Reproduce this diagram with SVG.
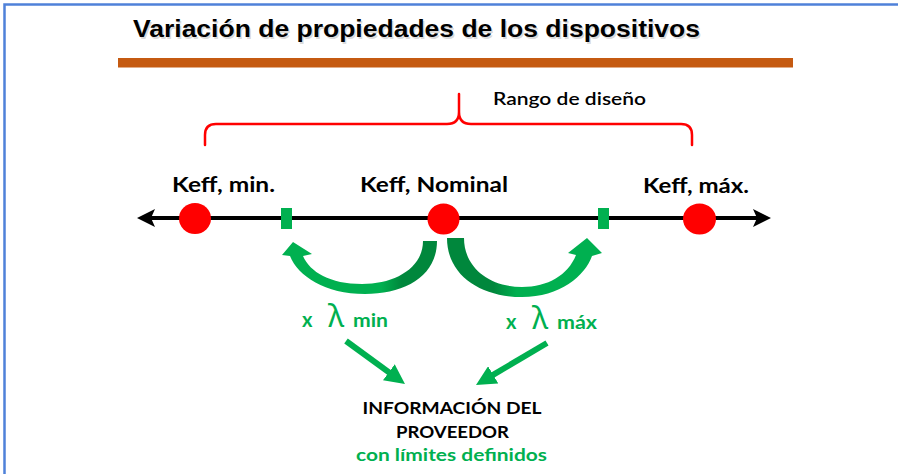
<svg xmlns="http://www.w3.org/2000/svg" width="898" height="474" viewBox="0 0 898 474">
  <style>
    .title { font-family: "Liberation Sans", Arial, sans-serif; font-weight: bold; font-size: 23px; fill: #000; }
    .lbl { font-family: Lato, "Open Sans", sans-serif; font-weight: bold; fill: #000; }
    .keff { font-size: 21px; }
    .info { font-size: 17px; }
    .grn { fill: #00b050; }
    .lam { font-family: "Noto Sans", "DejaVu Sans", sans-serif; font-weight: normal; font-size: 31px; fill: #00b050; }
    .pt { fill: #ff0000; }
    .tick { fill: #00b050; }
    .brace { fill: none; stroke: #ff0000; stroke-width: 2.5; stroke-linecap: round; stroke-linejoin: round; }
    .straight { stroke: #00b050; stroke-width: 6; fill: none; marker-end: url(#ghead); }
  </style>
  <defs>
    <marker id="ghead" viewBox="0 0 20 20" markerUnits="userSpaceOnUse" markerWidth="20" markerHeight="20" refX="10" refY="10" orient="auto">
      <path d="M0,0 L20,10 L0,20 Z" fill="#00b050"/>
    </marker>
    <linearGradient id="gradL" gradientUnits="userSpaceOnUse" x1="290" y1="0" x2="437" y2="0">
      <stop offset="0" stop-color="#00b050"/>
      <stop offset="0.62" stop-color="#00b050"/>
      <stop offset="0.76" stop-color="#00873c"/>
      <stop offset="1" stop-color="#00873c"/>
    </linearGradient>
    <linearGradient id="gradR" gradientUnits="userSpaceOnUse" x1="447" y1="0" x2="602" y2="0">
      <stop offset="0" stop-color="#00873c"/>
      <stop offset="0.3" stop-color="#00873c"/>
      <stop offset="0.45" stop-color="#00b050"/>
      <stop offset="1" stop-color="#00b050"/>
    </linearGradient>
  </defs>

  <rect x="0" y="0" width="898" height="474" fill="#ffffff"/>
  <g id="frame">
    <path d="M4.5,474 L4.5,4.5 L898,4.5" fill="none" stroke="#4f81d9" stroke-width="2.5"/>
  </g>

  <g id="title">
    <text class="title" x="134.5" y="38.5" textLength="567" lengthAdjust="spacingAndGlyphs" fill-opacity="0.3" style="fill:#808080">Variación de propiedades de los dispositivos</text>
    <text class="title" x="133" y="37" textLength="567" lengthAdjust="spacingAndGlyphs">Variación de propiedades de los dispositivos</text>
  </g>

  <g id="title-bar">
    <rect x="118" y="58" width="675" height="9.5" fill="#c55a11"/>
  </g>

  <g id="design-range">
    <path class="brace" d="M205,145 L205,135 Q205,124 216,124 L447,124 Q459,124 459,112 L459,94 M459,112 Q459,124 471,124 L681,124 Q692,124 692,135 L692,145"/>
    <text class="lbl" x="493" y="105" font-size="17" textLength="153" lengthAdjust="spacingAndGlyphs" style="font-weight:600">Rango de diseño</text>
  </g>

  <g id="axis">
    <line x1="150" y1="218" x2="758" y2="218" stroke="#000" stroke-width="4"/>
    <polygon points="137,218 155,209 151,218 155,227" fill="#000"/>
    <polygon points="771,218 753,209 757,218 753,227" fill="#000"/>
  </g>

  <g id="keff-min">
    <ellipse class="pt" cx="195" cy="218.5" rx="16" ry="15.5"/>
    <text class="lbl keff" x="172" y="192" textLength="103" lengthAdjust="spacingAndGlyphs">Keff, min.</text>
  </g>
  <g id="keff-nominal">
    <ellipse class="pt" cx="443.5" cy="219" rx="16" ry="15.5"/>
    <text class="lbl keff" x="360" y="192" textLength="148" lengthAdjust="spacingAndGlyphs">Keff, Nominal</text>
  </g>
  <g id="keff-max">
    <ellipse class="pt" cx="699.5" cy="219" rx="16.5" ry="15.5"/>
    <text class="lbl keff" x="643" y="193" textLength="106" lengthAdjust="spacingAndGlyphs">Keff, máx.</text>
  </g>

  <g id="limit-min">
    <rect class="tick" x="281" y="208" width="11" height="21"/>
  </g>
  <g id="limit-max">
    <rect class="tick" x="598" y="208" width="11" height="21"/>
  </g>

  <g id="label-lambda-min">
    <text class="lbl grn" x="302" y="327" font-size="20">x</text>
    <text class="lam" x="328" y="327">λ</text>
    <text class="lbl grn" x="353" y="327" font-size="19" textLength="35" lengthAdjust="spacingAndGlyphs">min</text>
  </g>
  <g id="label-lambda-max">
    <text class="lbl grn" x="506" y="329" font-size="20">x</text>
    <text class="lam" x="532" y="329">λ</text>
    <text class="lbl grn" x="557" y="329" font-size="19" textLength="40" lengthAdjust="spacingAndGlyphs">máx</text>
  </g>

  <g id="supplier-info">
    <text class="lbl info" x="452" y="414" text-anchor="middle" textLength="179" lengthAdjust="spacingAndGlyphs">INFORMACIÓN DEL</text>
    <text class="lbl info" x="452.5" y="438" text-anchor="middle" textLength="113" lengthAdjust="spacingAndGlyphs">PROVEEDOR</text>
    <text class="lbl info grn" x="451.5" y="461" text-anchor="middle" textLength="191" lengthAdjust="spacingAndGlyphs">con límites definidos</text>
  </g>

  <g id="connectors">
    <path d="M437,241 C437,276 405,294 365,294 C325,294 298,276 290,256 L282,255 L293,242 L312,254 L303,256 C310,272 330,284 362,284 C395,284 423,268 423,241 Z" fill="url(#gradL)"/>
    <path d="M447,238 C447,275 480,297 522,297 C560,297 585,276 592,256 L602,253 L587,238 L568,253 L576,255 C568,275 548,287 522,287 C490,287 464,268 464,238 Z" fill="url(#gradR)"/>
    <line class="straight" x1="346" y1="341" x2="396.9" y2="378.1"/>
    <line class="straight" x1="547" y1="343" x2="484.6" y2="379.9"/>
  </g>
</svg>
